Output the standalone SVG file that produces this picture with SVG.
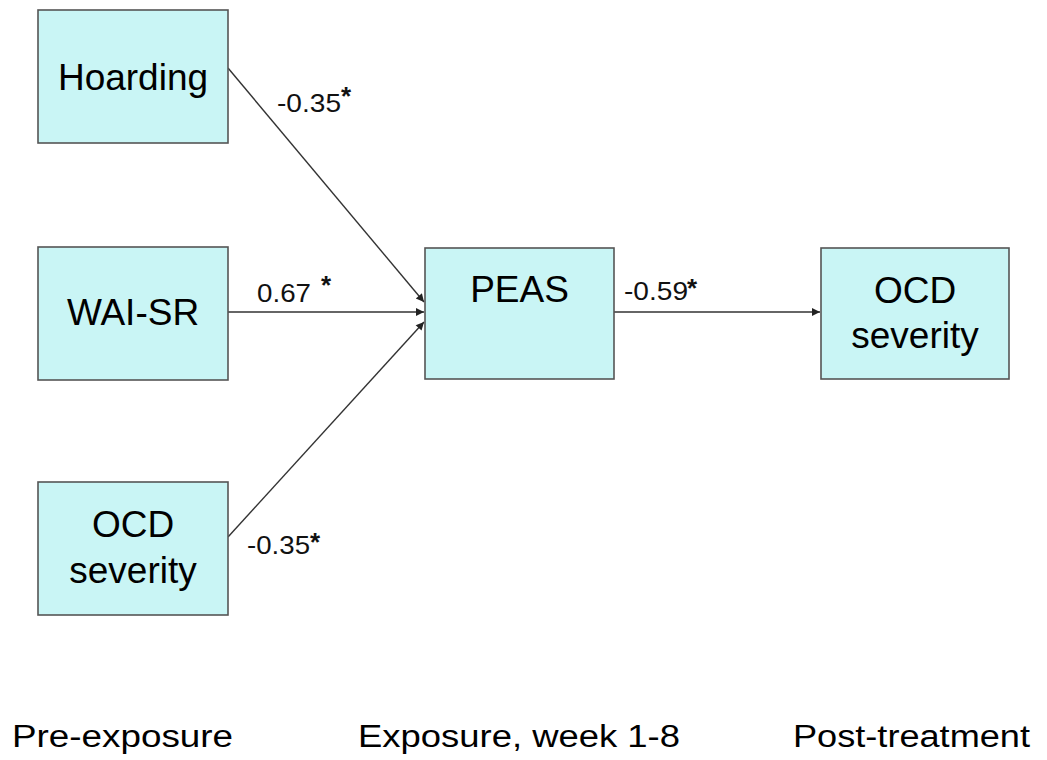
<svg xmlns="http://www.w3.org/2000/svg" width="1047" height="760" viewBox="0 0 1047 760">
<style>
.box{fill:#c9f5f5;stroke:#555;stroke-width:1.6}
.nt{font-family:"Liberation Sans",Arial,sans-serif;font-size:37px;fill:#000;text-anchor:middle}
.lb{font-family:"Liberation Sans",Arial,sans-serif;font-size:25px;fill:#111}
.st{font-family:"Liberation Sans",Arial,sans-serif;font-size:26px;font-weight:bold;fill:#111}
.ph{font-family:"Liberation Sans",Arial,sans-serif;font-size:31px;fill:#000}
.cn{stroke:#333;stroke-width:1.4;fill:none;marker-end:url(#ah)}
</style>
<defs>
<marker id="ah" viewBox="0 0 10 10" refX="10" refY="5" markerWidth="10" markerHeight="8" markerUnits="userSpaceOnUse" orient="auto">
<path d="M0,0 L10,5 L0,10 z" fill="#222"/>
</marker>
</defs>
<rect width="1047" height="760" fill="#fff"/>
<g id="connectors">
<line class="cn" x1="228" y1="68" x2="424" y2="302"/>
<line class="cn" x1="228" y1="312" x2="424" y2="312"/>
<line class="cn" x1="228" y1="537" x2="424" y2="322"/>
<line class="cn" x1="614" y1="312" x2="820" y2="312"/>
</g>
<g id="hoarding">
<rect class="box" x="38" y="10" width="190" height="133"/>
<text class="nt" x="133" y="90">Hoarding</text>
</g>
<g id="waisr">
<rect class="box" x="38" y="247" width="190" height="133"/>
<text class="nt" x="133" y="325">WAI-SR</text>
</g>
<g id="ocd-pre">
<rect class="box" x="38" y="482" width="190" height="133"/>
<text class="nt" x="133" y="537">OCD</text>
<text class="nt" x="133" y="583">severity</text>
</g>
<g id="peas">
<rect class="box" x="425" y="248" width="189" height="131"/>
<text class="nt" x="519.5" y="302">PEAS</text>
</g>
<g id="ocd-post">
<rect class="box" x="821" y="248" width="188" height="131"/>
<text class="nt" x="915" y="303">OCD</text>
<text class="nt" x="915" y="348">severity</text>
</g>
<g id="labels">
<text class="lb" x="277" y="112" textLength="64" lengthAdjust="spacingAndGlyphs">-0.35</text>
<text class="st" x="341" y="105">*</text>
<text class="lb" x="257" y="302" textLength="54" lengthAdjust="spacingAndGlyphs">0.67</text>
<text class="st" x="321" y="294">*</text>
<text class="lb" x="247" y="554" textLength="63" lengthAdjust="spacingAndGlyphs">-0.35</text>
<text class="st" x="310" y="551">*</text>
<text class="lb" x="624" y="300" textLength="64" lengthAdjust="spacingAndGlyphs">-0.59</text>
<text class="st" x="687" y="297">*</text>
</g>
<g id="phases">
<text class="ph" x="12" y="747" textLength="221" lengthAdjust="spacingAndGlyphs">Pre-exposure</text>
<text class="ph" x="358" y="747" textLength="322" lengthAdjust="spacingAndGlyphs">Exposure, week 1-8</text>
<text class="ph" x="793" y="747" textLength="237" lengthAdjust="spacingAndGlyphs">Post-treatment</text>
</g>
</svg>
